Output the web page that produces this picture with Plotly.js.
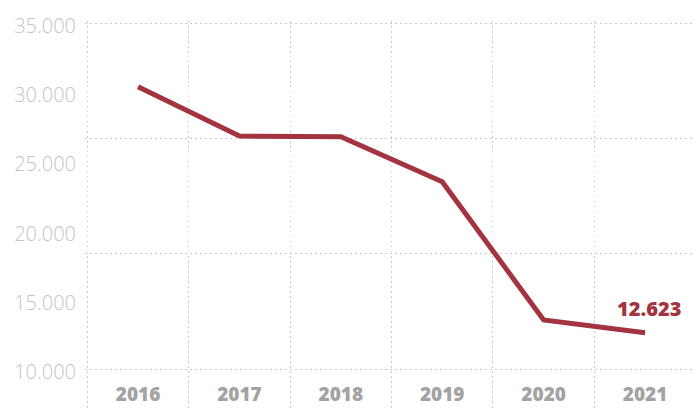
<!DOCTYPE html>
<html>
<head>
<meta charset="utf-8">
<script src="https://cdn.plot.ly/plotly-3.0.1.min.js"></script>
<style>html,body{margin:0;padding:0;background:#fff;}#chart{width:693px;height:408px;}</style>
</head>
<body>
<div id="chart"></div>
<script>
const years = [2016, 2017, 2018, 2019, 2020, 2021];
const values = [30400, 26830, 26790, 23530, 13540, 12623];
const yTickVals = [10000, 15000, 20000, 25000, 30000, 35000];
const yGridVals = [10000, 18333.33, 26666.67, 35000];
const xGridVals = [2015.5, 2016.5, 2017.5, 2018.5, 2019.5, 2020.5, 2021.5];

const lineColor = '#a2333f';
function fmt(v){ return String(Math.round(v)).replace(/\B(?=(\d{3})+(?!\d))/g, '.'); }

const lastIdx = values.length - 1;

const trace = {
  x: years, y: values, type: 'scatter', mode: 'lines',
  line: {color: lineColor, width: 5},
  hoverinfo: 'skip'
};

const layout = {
  width: 693, height: 408,
  margin: {l: 85, r: 0, t: 21, b: 0},
  paper_bgcolor: '#fff', plot_bgcolor: '#fff',
  separators: ',.',
  showlegend: false,
  xaxis: {
    range: [2015.477, 2021.473],
    tickmode: 'array', tickvals: years, ticktext: years.map(String),
    showgrid: false, zeroline: false, showline: false, ticks: '',
    ticklabelposition: 'inside',
    ticklabelstandoff: 0,
    tickfont: {family: 'Open Sans', size: 19, weight: 800, color: '#a3a3a3'},
    minor: {tickmode: 'array', tickvals: xGridVals, showgrid: true, gridcolor: '#c9c9c9', gridwidth: 1, griddash: '1.5px,3.5px', ticks: ''}
  },
  yaxis: {
    range: [7182, 35145],
    tickmode: 'array', tickvals: yTickVals, tickformat: ',d',
    showgrid: false, zeroline: false, showline: false, ticks: '',
    ticklabelstandoff: 8,
    ticklabelshift: 3,
    tickfont: {family: 'Open Sans', size: 20, weight: 300, color: '#c4c4c4'},
    minor: {tickmode: 'array', tickvals: yGridVals, showgrid: true, gridcolor: '#c9c9c9', gridwidth: 1, griddash: '1.5px,3.5px', ticks: ''}
  },
  annotations: [{
    x: years[lastIdx], y: values[lastIdx], xref: 'x', yref: 'y',
    text: fmt(values[lastIdx]), showarrow: false,
    xshift: 4, yshift: 24,
    font: {family: 'Open Sans', size: 20, weight: 800, color: lineColor}
  }]
};

Plotly.newPlot('chart', [trace], layout, {displayModeBar: false, staticPlot: true});
</script>
</body>
</html>
